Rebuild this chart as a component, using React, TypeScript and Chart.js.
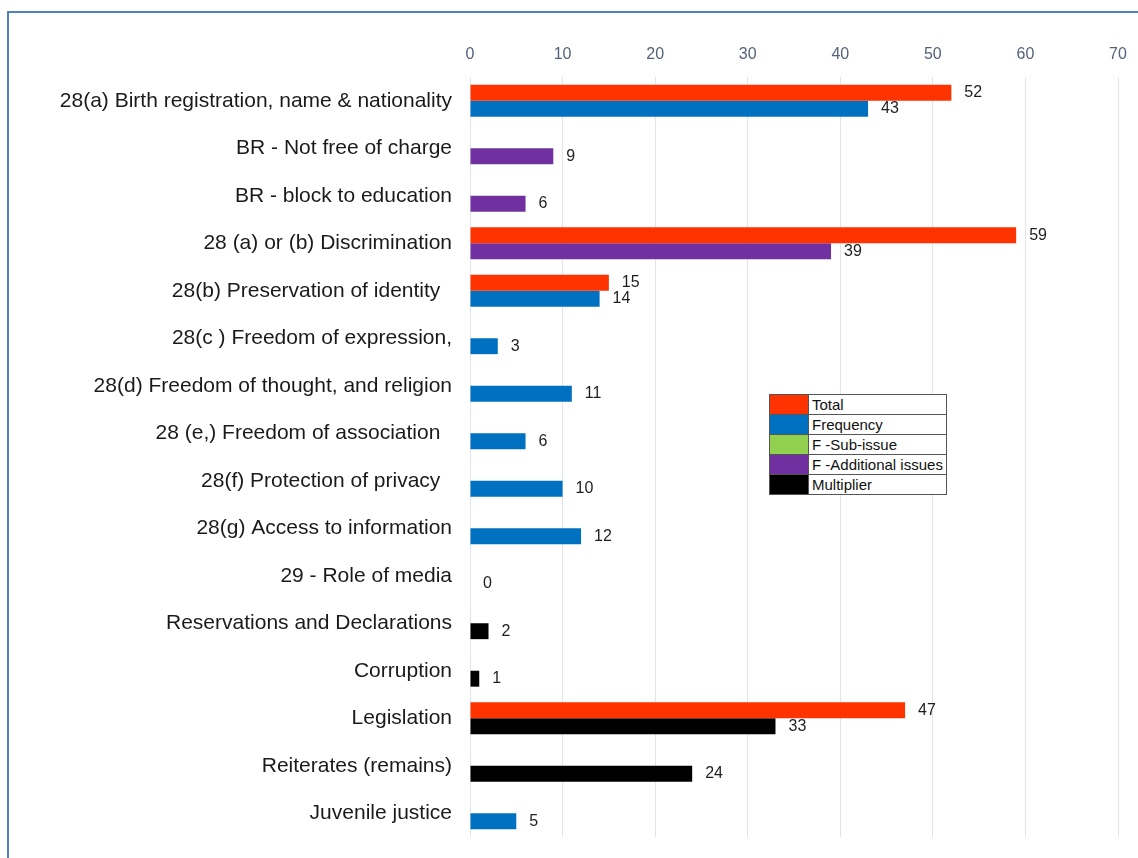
import React, { useEffect, useRef } from 'react';
import { Chart, registerables } from 'chart.js';

Chart.register(...registerables);

const categories = [
  '28(a) Birth registration, name & nationality',
  'BR - Not free of charge',
  'BR - block to education',
  '28 (a) or (b) Discrimination',
  '28(b) Preservation of identity  ',
  '28(c ) Freedom of expression,',
  '28(d) Freedom of thought, and religion',
  '28 (e,) Freedom of association  ',
  '28(f) Protection of privacy  ',
  '28(g) Access to information',
  '29 - Role of media',
  'Reservations and Declarations',
  'Corruption',
  'Legislation',
  'Reiterates (remains)',
  'Juvenile justice',
];

const totalValues = [52, null, null, 59, 15, null, null, null, null, null, null, null, null, 47, null, null];
const frequencyValues = [43, null, null, null, 14, 3, 11, 6, 10, 12, 0, null, null, null, null, 5];
const subIssueValues = [null, null, null, null, null, null, null, null, null, null, null, null, null, null, null, null];
const additionalValues = [null, 9, 6, 39, null, null, null, null, null, null, null, null, null, null, null, null];
const multiplierValues = [null, null, null, null, null, null, null, null, null, null, null, 2, 1, 33, 24, null];

const seriesNames = ['Total', 'Frequency', 'F -Sub-issue', 'F -Additional issues', 'Multiplier'];
const seriesColors = ['#FF3300', '#0070C0', '#92D050', '#7030A0', '#000000'];
const xMin = 0;
const xMax = 70;
const xStep = 10;

const valueLabels = {
  id: 'valueLabels',
  afterDatasetsDraw(chart: any) {
    const ctx = chart.ctx;
    ctx.save();
    ctx.font = '16px "Liberation Sans", Arial, sans-serif';
    ctx.fillStyle = '#1e1e1e';
    ctx.textAlign = 'left';
    ctx.textBaseline = 'middle';
    chart.data.datasets.forEach((ds: any, i: number) => {
      const meta = chart.getDatasetMeta(i);
      meta.data.forEach((el: any, j: number) => {
        const v = ds.data[j];
        if (v === null || v === undefined) return;
        ctx.fillText(String(v), el.x + 13, el.y);
      });
    });
    ctx.restore();
  },
};

export default function App() {
  const canvasRef = useRef<HTMLCanvasElement | null>(null);

  useEffect(() => {
    if (!canvasRef.current) return;
    const allSeries = [totalValues, frequencyValues, subIssueValues, additionalValues, multiplierValues];
    const chart = new Chart(canvasRef.current, {
      type: 'bar',
      data: {
        labels: categories,
        datasets: allSeries.map((d, i) => ({
          label: seriesNames[i],
          data: d as any,
          backgroundColor: seriesColors[i],
          borderWidth: 0,
          stack: i === 0 ? 'total' : 'parts',
          categoryPercentage: 0.67,
          barPercentage: 1.0,
        })),
      },
      options: {
        indexAxis: 'y',
        animation: false,
        responsive: false,
        maintainAspectRatio: false,
        layout: { padding: { left: 0, right: 20, top: 0, bottom: 21 } },
        plugins: {
          legend: { display: false },
          tooltip: { enabled: false },
          title: { display: false },
        },
        scales: {
          x: {
            position: 'top',
            stacked: true,
            min: xMin,
            max: xMax,
            ticks: {
              stepSize: xStep,
              color: '#56627a',
              font: { family: '"Liberation Sans", Arial', size: 16 },
              padding: 13,
            },
            grid: { color: '#dfe5ee', drawTicks: false, lineWidth: 1 },
            border: { display: false },
            afterFit: (s: any) => {
              s.height = 77;
              s.paddingLeft = 0;
              s.paddingRight = 0;
            },
          },
          y: {
            ticks: {
              color: '#1a1a1a',
              font: { family: '"Liberation Sans", Arial, sans-serif', size: 21 },
              padding: 18,
              autoSkip: false,
            },
            grid: { display: false, drawTicks: false },
            border: { display: false },
            afterFit: (s: any) => {
              s.width = 470;
              s.paddingTop = 0;
              s.paddingBottom = 0;
            },
          },
        },
      },
      plugins: [valueLabels],
    });
    return () => chart.destroy();
  }, []);

  const legendCell: React.CSSProperties = {
    border: '1px solid #555',
    padding: '0 0 0 3px',
    height: 19,
    fontSize: 15,
    lineHeight: '19px',
    color: '#111',
    fontFamily: '"Liberation Sans", Arial, sans-serif',
    whiteSpace: 'nowrap',
  };

  return (
    <div style={{ position: 'fixed', left: 0, top: 0, width: 1138, height: 858, background: '#fff', overflow: 'hidden' }}>
      <canvas ref={canvasRef} width={1138} height={858} style={{ position: 'absolute', left: 0, top: 0, width: 1138, height: 858 }} />
      <div style={{ position: 'absolute', left: 7, top: 11, width: 1140, height: 860, borderTop: '2px solid #4f81bd', borderLeft: '2px solid #4f81bd', pointerEvents: 'none' }} />
      <table style={{ position: 'absolute', left: 769, top: 394, width: 178, borderCollapse: 'collapse', background: '#fff' }}>
        <tbody>
          {seriesNames.map((n, i) => (
            <tr key={n}>
              <td style={{ ...legendCell, width: 38, padding: 0, background: seriesColors[i] }} />
              <td style={legendCell}>{n}</td>
            </tr>
          ))}
        </tbody>
      </table>
    </div>
  );
}
